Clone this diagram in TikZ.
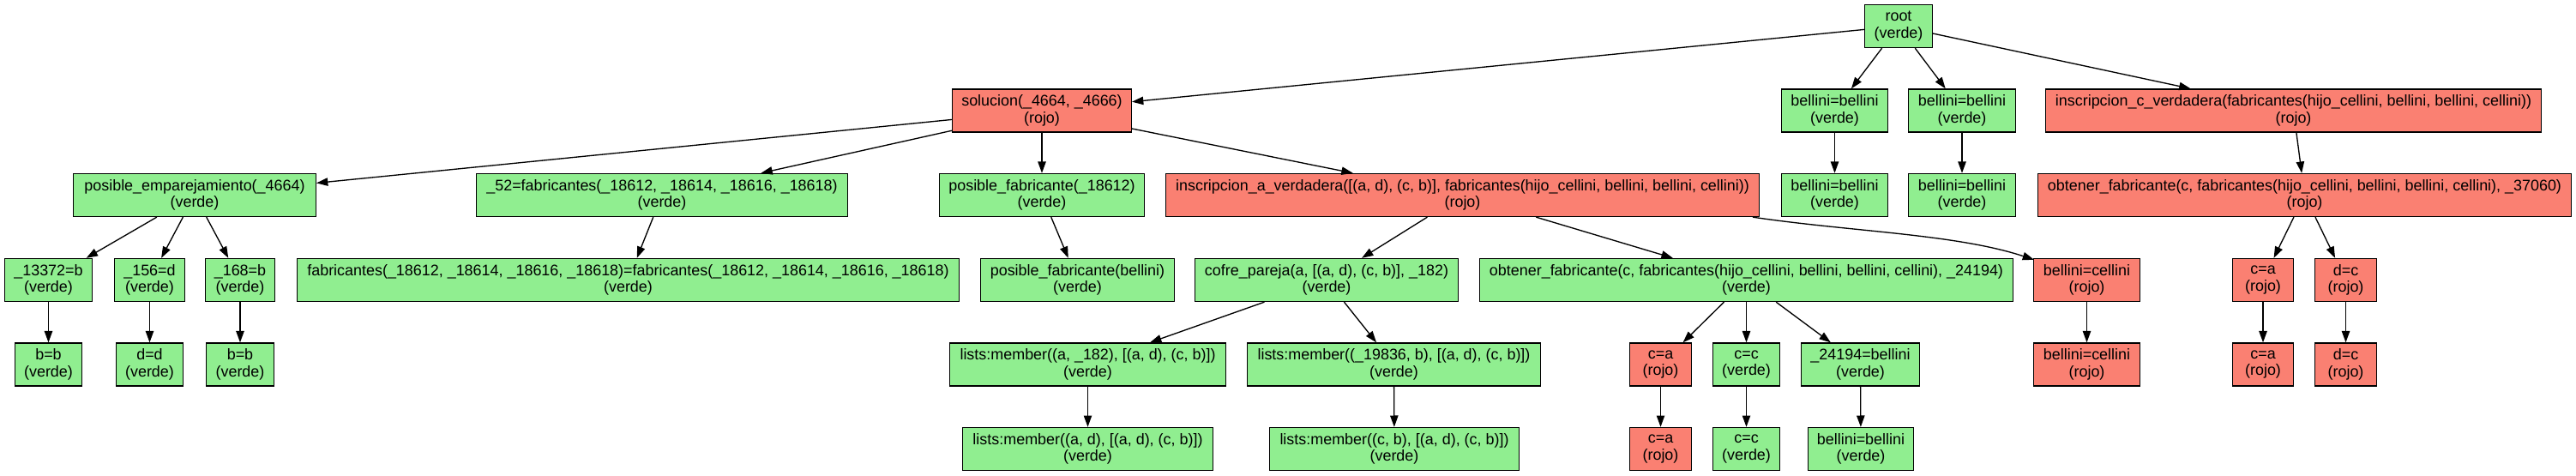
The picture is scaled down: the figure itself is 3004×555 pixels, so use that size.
\documentclass[tikz,border=0pt]{standalone}
\usepackage{fontspec}
\setmainfont{Liberation Sans}
\usetikzlibrary{arrows.meta,calc}
\definecolor{verde}{HTML}{90EE90}
\definecolor{rojo}{HTML}{FA8072}
\tikzset{
 box/.style={draw=black, line width=1pt, rectangle, align=center, minimum height=37.5pt, inner sep=0pt, font=\fontsize{13.45pt}{14.5pt}\selectfont},
 ok/.style={box, fill=verde},
 ko/.style={box, fill=rojo},
 bw/.style={minimum width={#1*0.75pt-1pt}},
 edge/.style={draw=black, line width=1pt, -{Triangle[length=10pt,width=7pt]}},
}
\begin{document}
\begin{tikzpicture}[x=0.75pt,y=-0.75pt]
\fill[white] (0,0) rectangle (3004,555);
\useasboundingbox (0,0) rectangle (3004,555);
% row 0
\node[ok,bw=80] (root) at (2214,30.5) {root\\(verde)};
% row 1
\node[ko,bw=210] (sol) at (1215,129) {solucion(\_4664, \_4666)\\(rojo)};
\node[ok,bw=125] (bel1) at (2139.5,129) {bellini=bellini\\(verde)};
\node[ok,bw=126] (bel2) at (2288,129) {bellini=bellini\\(verde)};
\node[ko,bw=579] (insC) at (2674.5,129) {inscripcion\_c\_verdadera(fabricantes(hijo\_cellini, bellini, bellini, cellini))\\(rojo)};
% row 2
\node[ok,bw=284] (pe) at (227,227.5) {posible\_emparejamiento(\_4664)\\(verde)};
\node[ok,bw=434] (f52) at (772,227.5) {\_52=fabricantes(\_18612, \_18614, \_18616, \_18618)\\(verde)};
\node[ok,bw=240] (pf) at (1215,227.5) {posible\_fabricante(\_18612)\\(verde)};
\node[ko,bw=693] (insA) at (1705.5,227.5) {inscripcion\_a\_verdadera([(a, d), (c, b)], fabricantes(hijo\_cellini, bellini, bellini, cellini))\\(rojo)};
\node[ok,bw=125] (bel1b) at (2139.5,227.5) {bellini=bellini\\(verde)};
\node[ok,bw=126] (bel2b) at (2288,227.5) {bellini=bellini\\(verde)};
\node[ko,bw=623] (ob37) at (2687.5,227.5) {obtener\_fabricante(c, fabricantes(hijo\_cellini, bellini, bellini, cellini), \_37060)\\(rojo)};
% row 3
\node[ok,bw=103] (n13) at (56.5,326.5) {\_13372=b\\(verde)};
\node[ok,bw=83] (n156) at (174.5,326.5) {\_156=d\\(verde)};
\node[ok,bw=82] (n168) at (280,326.5) {\_168=b\\(verde)};
\node[ok,bw=773] (fabeq) at (732.5,326.5) {fabricantes(\_18612, \_18614, \_18616, \_18618)=fabricantes(\_18612, \_18614, \_18616, \_18618)\\(verde)};
\node[ok,bw=227] (pfb) at (1256.5,326.5) {posible\_fabricante(bellini)\\(verde)};
\node[ok,bw=308] (cofre) at (1547,326.5) {cofre\_pareja(a, [(a, d), (c, b)], \_182)\\(verde)};
\node[ok,bw=623] (ob24) at (2036.5,326.5) {obtener\_fabricante(c, fabricantes(hijo\_cellini, bellini, bellini, cellini), \_24194)\\(verde)};
\node[ko,bw=125] (bc) at (2433.5,326.5) {bellini=cellini\\(rojo)};
\node[ko,bw=72] (ca3) at (2639,326.5) {c=a\\(rojo)};
\node[ko,bw=73] (dc3) at (2735.5,326.5) {d=c\\(rojo)};
% row 4
\node[ok,bw=79] (bb1) at (56.5,425) {b=b\\(verde)};
\node[ok,bw=79] (dd) at (174.5,425) {d=d\\(verde)};
\node[ok,bw=80] (bb2) at (280,425) {b=b\\(verde)};
\node[ok,bw=323] (lm1) at (1268.5,425) {lists:member((a, \_182), [(a, d), (c, b)])\\(verde)};
\node[ok,bw=343] (lm2) at (1625.5,425) {lists:member((\_19836, b), [(a, d), (c, b)])\\(verde)};
\node[ko,bw=73] (ca4) at (1936.5,425) {c=a\\(rojo)};
\node[ok,bw=79] (cc4) at (2036.5,425) {c=c\\(verde)};
\node[ok,bw=139] (b24) at (2169.5,425) {\_24194=bellini\\(verde)};
\node[ko,bw=125] (bc4) at (2433.5,425) {bellini=cellini\\(rojo)};
\node[ko,bw=72] (ca4b) at (2639,425) {c=a\\(rojo)};
\node[ko,bw=73] (dc4) at (2735.5,425) {d=c\\(rojo)};
% row 5
\node[ok,bw=293] (lm1b) at (1268.5,523.5) {lists:member((a, d), [(a, d), (c, b)])\\(verde)};
\node[ok,bw=292] (lm2b) at (1626,523.5) {lists:member((c, b), [(a, d), (c, b)])\\(verde)};
\node[ko,bw=73] (ca5) at (1936.5,523.5) {c=a\\(rojo)};
\node[ok,bw=79] (cc5) at (2036.5,523.5) {c=c\\(verde)};
\node[ok,bw=124] (bb5) at (2170,523.5) {bellini=bellini\\(verde)};
% edges
\draw[edge] (root) -- (sol);
\draw[edge] (root) -- (bel1);
\draw[edge] (root) -- (bel2);
\draw[edge] (root) -- (insC);
\draw[edge] (sol) -- (pe);
\draw[edge] (sol) -- (f52);
\draw[edge] (sol) -- (pf);
\draw[edge] (sol) -- (insA);
\draw[edge] (bel1) -- (bel1b);
\draw[edge] (bel2) -- (bel2b);
\draw[edge] (insC) -- (ob37);
\draw[edge] (pe) -- (n13);
\draw[edge] (pe) -- (n156);
\draw[edge] (pe) -- (n168);
\draw[edge] (f52) -- (fabeq);
\draw[edge] (pf) -- (pfb);
\draw[edge] (insA) -- (cofre);
\draw[edge] (insA) -- (ob24);
\draw[edge] ($(insA.south east)+(-8,0)$) .. controls +(115,17) and +(-91,-30) .. ($(bc.north west)+(1,2)$);
\draw[edge] (ob37) -- (ca3);
\draw[edge] (ob37) -- (dc3);
\draw[edge] (n13) -- (bb1);
\draw[edge] (n156) -- (dd);
\draw[edge] (n168) -- (bb2);
\draw[edge] (cofre) -- (lm1);
\draw[edge] (cofre) -- (lm2);
\draw[edge] (ob24) -- (ca4);
\draw[edge] (ob24) -- (cc4);
\draw[edge] (ob24) -- (b24);
\draw[edge] (bc) -- (bc4);
\draw[edge] (ca3) -- (ca4b);
\draw[edge] (dc3) -- (dc4);
\draw[edge] (lm1) -- (lm1b);
\draw[edge] (lm2) -- (lm2b);
\draw[edge] (ca4) -- (ca5);
\draw[edge] (cc4) -- (cc5);
\draw[edge] (b24) -- (bb5);
\end{tikzpicture}
\end{document}
